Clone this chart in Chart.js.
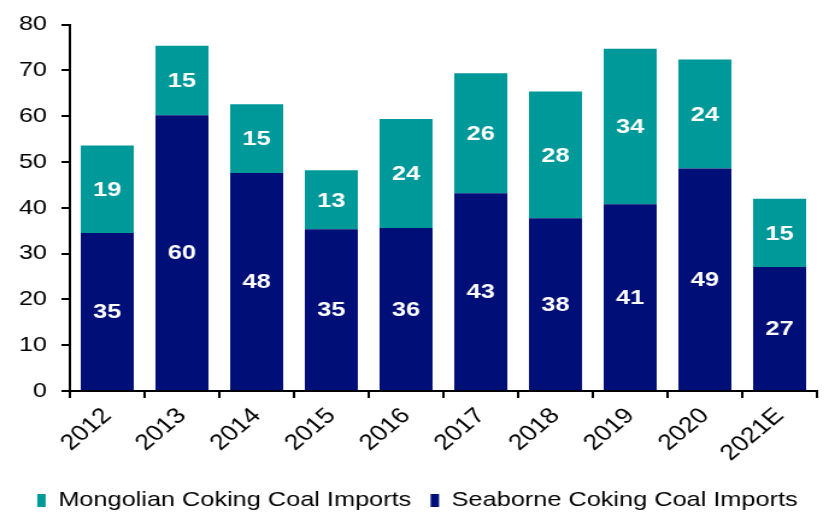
<!DOCTYPE html>
<html>
<head>
<meta charset="utf-8">
<script src="https://cdn.jsdelivr.net/npm/chart.js@4/dist/chart.umd.min.js"></script>
<style>
  body { margin: 0; background: #fff; overflow: hidden; }
  /* the original picture is stretched sideways, so the canvas is drawn narrow and widened by CSS */
  #coalChart { display: block; width: 829px; height: 514px; }
</style>
</head>
<body>
<canvas id="coalChart" width="688" height="514" style="width:829px;height:514px"></canvas>
<script>
// data (million tonnes)
var years = ['2012', '2013', '2014', '2015', '2016', '2017', '2018', '2019', '2020', '2021E'];
var seaborne = [34.5, 60.2, 47.6, 35.3, 35.6, 43.2, 37.7, 40.8, 48.6, 27.1];
var mongolian = [19.1, 15.2, 15.0, 12.9, 23.8, 26.2, 27.7, 33.9, 23.8, 14.9];
var yTicks = [0, 10, 20, 30, 40, 50, 60, 70, 80];

var NAVY = 'rgb(0, 14, 120)';
var TEAL = 'rgb(0, 153, 153)';
var FONT = '"Liberation Sans", Arial, sans-serif';

// white bold numbers centred in each segment
var barLabels = {
    id: 'barLabels',
    afterDatasetsDraw: function (chart) {
        var ctx = chart.ctx;
        ctx.save();
        ctx.fillStyle = '#fff';
        ctx.font = 'bold 21px ' + FONT;
        ctx.textAlign = 'center';
        ctx.textBaseline = 'middle';
        chart.data.datasets.forEach(function (ds, i) {
            chart.getDatasetMeta(i).data.forEach(function (bar, j) {
                var mid = (bar.y + bar.base) / 2;
                ctx.fillText(Math.round(ds.data[j]), bar.x, mid + 1);
            });
        });
        ctx.restore();
    }
};

var ctx = document.getElementById('coalChart').getContext('2d');
new Chart(ctx, {
    type: 'bar',
    data: {
        labels: years,
        datasets: [{
            label: 'Seaborne Coking Coal Imports',
            data: seaborne,
            backgroundColor: NAVY,
            borderWidth: 0
        }, {
            label: 'Mongolian Coking Coal Imports',
            data: mongolian,
            backgroundColor: TEAL,
            borderWidth: 0
        }]
    },
    options: {
        responsive: false,
        animation: false,
        devicePixelRatio: 1,
        layout: { padding: { left: 0, right: 10, top: 24, bottom: -7 } },
        datasets: { bar: { categoryPercentage: 0.71, barPercentage: 1 } },
        plugins: {
            tooltip: { enabled: false },
            legend: {
                position: 'bottom',
                align: 'end',
                reverse: true,
                labels: {
                    color: '#000',
                    boxWidth: 7,
                    boxHeight: 13,
                    padding: 16,
                    font: { family: FONT, size: 21 }
                }
            }
        },
        scales: {
            x: {
                stacked: true,
                border: { color: '#000', width: 2 },
                grid: { display: true, drawOnChartArea: false, offset: true, color: '#000', lineWidth: 2, tickLength: 7 },
                afterFit: function (axis) { axis.height = 83; },
                ticks: {
                    color: '#000',
                    maxRotation: 45,
                    minRotation: 45,
                    padding: 5,
                    font: { family: FONT, size: 22 }
                }
            },
            y: {
                stacked: true,
                min: yTicks[0],
                max: yTicks[yTicks.length - 1],
                border: { color: '#000', width: 2 },
                grid: { display: true, drawOnChartArea: false, color: '#000', lineWidth: 2, tickLength: 7 },
                afterFit: function (axis) { axis.width = 58; },
                afterBuildTicks: function (axis) {
                    axis.ticks = yTicks.map(function (v) { return { value: v }; });
                },
                ticks: {
                    color: '#000',
                    padding: 12,
                    font: { family: FONT, size: 21 }
                }
            }
        }
    },
    plugins: [barLabels]
});
</script>
</body>
</html>
